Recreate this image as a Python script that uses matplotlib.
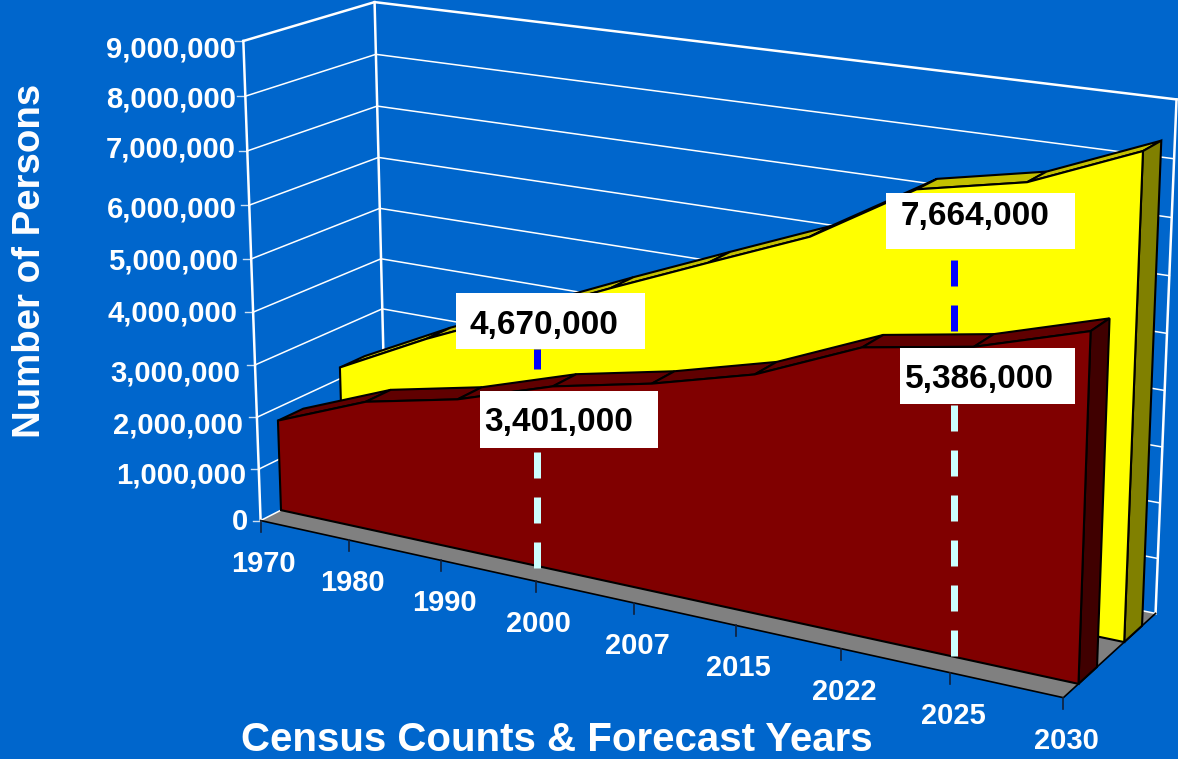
import numpy as np
import matplotlib
matplotlib.use("Agg")
import matplotlib.pyplot as plt

plt.rcParams['font.family'] = ['Liberation Sans', 'DejaVu Sans']
plt.rcParams['lines.scale_dashes'] = False

# -------------------------------
# Chart data
# -------------------------------
YEARS = ["1970", "1980", "1990", "2000", "2007", "2015", "2022", "2025", "2030"]
MAROON_VALUES = [1750000, 2450000, 2830000, 3401000, 3780000, 4270000, 5060000, 5386000, 5960000]
YELLOW_VALUES = [2220000, 3100000, 3880000, 4670000, 5430000, 6180000, 7280000, 7664000, 8440000]
Y_TICKS = [0, 1000000, 2000000, 3000000, 4000000, 5000000, 6000000, 7000000, 8000000, 9000000]
LABEL_INDEX = [3, 7]

# -------------------------------
# Colours
# -------------------------------
BG = "#0066CC"
FLOOR = "#808080"
MAROON = ("#800000", "#600000", "#400000")   # front, top, side
YELLOW = ("#FFFF00", "#C4C000", "#808000")

# -------------------------------
# 3D box projection, fitted on the corners of the chart box
# (x 0-1, value 0-1, depth 0-1) -> pixels
# -------------------------------
corners = [
    ((0, 0, 0), (260, 519)),
    ((0, 1, 0), (243, 40)),
    ((0, 0, 1), (386.5, 458)),
    ((0, 1, 1), (375, 3)),
    ((1, 0, 1), (1156, 614)),
    ((1, 1, 1), (1175, 96)),
    ((1, 0, 0), (1063, 697)),
    ((1, 1, 0), (1083, 155)),
]
rows = []
for (x, y, z), (u, v) in corners:
    rows.append([x, y, z, 1, 0, 0, 0, 0, -u * x, -u * y, -u * z, -u])
    rows.append([0, 0, 0, 0, x, y, z, 1, -v * x, -v * y, -v * z, -v])
P = np.linalg.svd(np.array(rows, dtype=float))[2][-1].reshape(3, 4)


def proj(i, value, z):
    """category index, value, depth -> pixel position"""
    p = P @ np.array([i / (len(YEARS) - 1), value / Y_TICKS[-1], z, 1.0])
    return p[0] / p[2], p[1] / p[2]


fig = plt.figure(figsize=(11.78, 7.59), dpi=100, facecolor=BG)
ax = fig.add_axes([0, 0, 1, 1])
ax.set_xlim(0, 1178)
ax.set_ylim(759, 0)
ax.axis("off")

last = len(YEARS) - 1

# Floor
ax.fill(*zip(proj(0, 0, 0), proj(last, 0, 0), proj(last, 0, 1), proj(0, 0, 1)),
        facecolor=FLOOR, edgecolor="none", zorder=1)
ax.plot(*zip(proj(0, 0, 0), proj(last, 0, 0), proj(last, 0, 1)), color="black", lw=1.2, zorder=1.5)

# Walls and gridlines
for t in Y_TICKS:
    top = t == Y_TICKS[-1]
    ax.plot(*zip(proj(0, t, 0), proj(0, t, 1), proj(last, t, 1)), color="white",
            lw=1.8 if top else 1.1, zorder=1.2, solid_joinstyle="miter")
    a = proj(0, t, 0)
    ax.plot([a[0] - 8, a[0]], [a[1], a[1]], color="white", lw=1.0, alpha=0.8, zorder=1.2)
for i, z in [(0, 0), (0, 1), (last, 1)]:
    ax.plot(*zip(proj(i, 0, z), proj(i, Y_TICKS[-1], z)), color="white", lw=1.8, zorder=1.2)

# X ticks and labels
for i, year in enumerate(YEARS):
    x, y = proj(i, 0, 0)
    ax.plot([x, x], [y, y + 11], color="#10203A", lw=1.2, zorder=1.5)
    ax.text(x + 3, y + 43, year, color="white", fontsize=21, fontweight="bold",
            ha="center", va="center")

# Y labels (they sit a bit irregular in the original)
ylabel_y = [522, 475, 425, 373, 314, 262, 210, 150, 100, 50]
ylabel_x = [248, 246, 243, 240, 238, 238, 237, 236, 236, 236]
for t, ly, lx in zip(Y_TICKS, ylabel_y, ylabel_x):
    ax.text(lx, ly, f"{t:,}", color="white", fontsize=21.1, fontweight="bold", ha="right", va="center")


def draw_area(values, z0, z1, colors):
    front, top, side = colors
    for i in range(last):
        pts = [proj(i, values[i], z0), proj(i + 1, values[i + 1], z0),
               proj(i + 1, values[i + 1], z1), proj(i, values[i], z1)]
        ax.fill(*zip(*pts), facecolor=top, edgecolor="black", lw=1.5, zorder=2)
    pts = [proj(last, 0, z0), proj(last, values[last], z0), proj(last, values[last], z1), proj(last, 0, z1)]
    ax.fill(*zip(*pts), facecolor=side, edgecolor="black", lw=1.5, zorder=2)
    pts = [proj(0, 0, z0)] + [proj(i, values[i], z0) for i in range(last + 1)] + [proj(last, 0, z0)]
    ax.fill(*zip(*pts), facecolor=front, edgecolor="black", lw=1.5, zorder=2, joinstyle="miter")


# back series first
draw_area(YELLOW_VALUES, 0.645, 0.845, YELLOW)
draw_area(MAROON_VALUES, 0.155, 0.35, MAROON)


# Leader lines
def leader(x, y0, y1, color):
    ax.plot([x, x], [y0, y1], color=color, lw=5.04, dashes=(18.72, 13.68), zorder=3,
            dash_capstyle="butt")


leader(537, 568, 449, "#CCFFFF")
leader(537, 369, 349, "#0000FF")
leader(954, 656, 405, "#CCFFFF")
leader(954, 331, 250, "#0000FF")

# Data labels: values, which label, box, text position
boxes = [
    (YELLOW_VALUES, 0, (456, 293, 189, 56), (470, 325.5)),
    (MAROON_VALUES, 0, (480, 391, 178, 57), (484, 422.5)),
    (YELLOW_VALUES, 1, (886, 193, 189, 56), (901, 216.5)),
    (MAROON_VALUES, 1, (900, 348, 175, 56), (905, 379.5)),
]
for values, k, (bx, by, bw, bh), (tx, ty) in boxes:
    ax.fill([bx, bx + bw, bx + bw, bx], [by, by, by + bh, by + bh], facecolor="white", edgecolor="none", zorder=4)
    ax.text(tx, ty, f"{values[LABEL_INDEX[k]]:,}", color="black", fontsize=24,
            fontweight="bold", ha="left", va="center", zorder=5)

# Axis titles
ax.text(557, 740, "Census Counts & Forecast Years", color="white", fontsize=29, fontweight="bold",
        ha="center", va="center")
ax.text(30, 261, "Number of Persons", color="white", fontsize=27.6, fontweight="bold", rotation=90,
        ha="center", va="center")

fig.savefig("out.png", dpi=100, facecolor=BG)
